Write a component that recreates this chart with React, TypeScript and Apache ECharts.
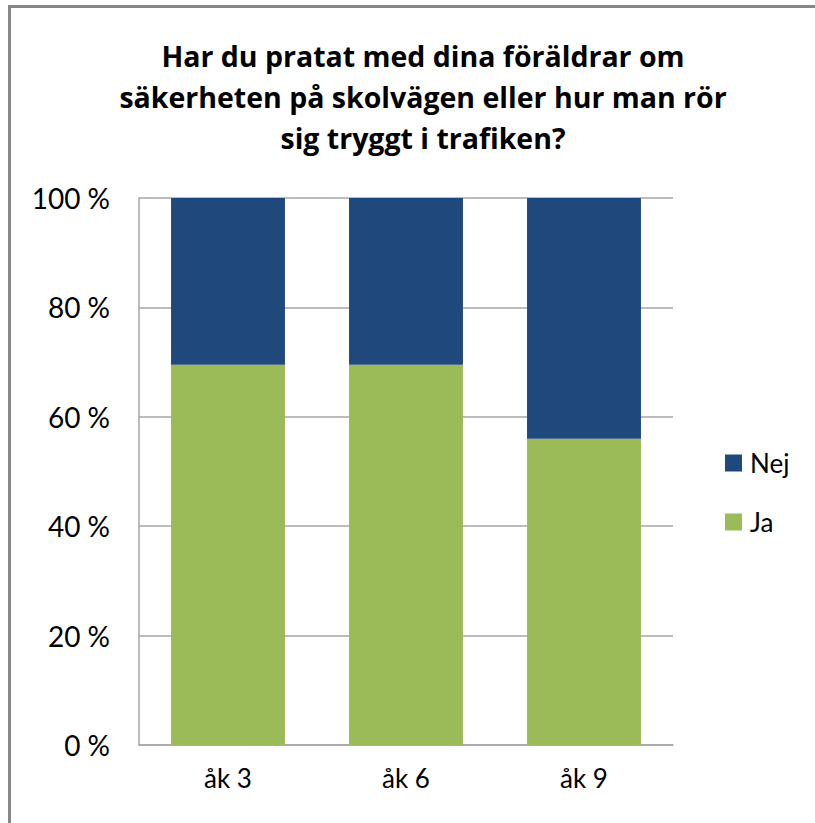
import React, { useEffect, useRef } from "react";
import * as echarts from "echarts";

const categories = ["åk 3", "åk 6", "åk 9"];
const jaValues = [69.5, 69.5, 56];
const nejValues = [30.5, 30.5, 44];
const titleLines = [
  "Har du pratat med dina föräldrar om",
  "säkerheten på skolvägen eller hur man rör",
  "sig tryggt i trafiken?",
];
const FONT = "Lato, 'Open Sans', sans-serif";
const TITLE_FONT = "'Open Sans', Lato, sans-serif";

export default function App() {
  const ref = useRef<HTMLDivElement>(null);
  useEffect(() => {
    if (!ref.current) return;
    const chart = echarts.init(ref.current, undefined, { renderer: "svg" });
    chart.setOption({
      animation: false,
      backgroundColor: "#ffffff",
      textStyle: { fontFamily: FONT },
      graphic: [
        {
          type: "text",
          x: 423,
          y: 35,
          style: {
            text: titleLines.join("\n"),
            font: `bold 28.5px ${TITLE_FONT}`,
            fill: "#000000",
            textAlign: "center",
            textVerticalAlign: "top",
            lineHeight: 41,
          },
        },
      ],
      legend: {
        orient: "vertical",
        left: 725,
        top: 450,
        padding: 0,
        itemWidth: 17,
        itemHeight: 17,
        itemGap: 33,
        icon: "rect",
        data: ["Nej", "Ja"],
        textStyle: { fontSize: 26, color: "#000", fontFamily: FONT, padding: [0, 0, 0, 3] },
      },
      grid: { left: 139, right: 142, top: 198, bottom: 78, containLabel: false },
      xAxis: {
        type: "category",
        data: categories,
        axisLine: { show: true, lineStyle: { color: "#a6a6a6", width: 1.5 } },
        axisTick: { show: false },
        axisLabel: { fontSize: 26, color: "#000", margin: 20, fontFamily: FONT },
      },
      yAxis: {
        type: "value",
        min: 0,
        max: 100,
        interval: 20,
        axisLine: { show: true, lineStyle: { color: "#a6a6a6", width: 1.5 } },
        axisTick: { show: false },
        splitLine: { show: true, lineStyle: { color: "#a6a6a6", width: 1.5 } },
        axisLabel: { fontSize: 28, color: "#000", margin: 29, formatter: "{value} %", fontFamily: FONT },
      },
      series: [
        {
          name: "Ja",
          type: "bar",
          stack: "total",
          data: jaValues,
          barWidth: "64%",
          itemStyle: { color: "#9BBB59" },
        },
        {
          name: "Nej",
          type: "bar",
          stack: "total",
          data: nejValues,
          barWidth: "64%",
          itemStyle: { color: "#1F497D" },
        },
      ],
    });
    return () => chart.dispose();
  }, []);
  return (
    <div style={{ position: "fixed", left: 0, top: 0, width: 815, height: 823, background: "#fff" }}>
      <div ref={ref} style={{ position: "absolute", left: 0, top: 0, width: 815, height: 823 }} />
      <div
        style={{
          position: "absolute",
          left: 8,
          top: 5,
          width: 815 - 8,
          height: 823 - 5,
          borderLeft: "3px solid #878787",
          borderTop: "3px solid #878787",
          boxSizing: "border-box",
          pointerEvents: "none",
        }}
      />
    </div>
  );
}
